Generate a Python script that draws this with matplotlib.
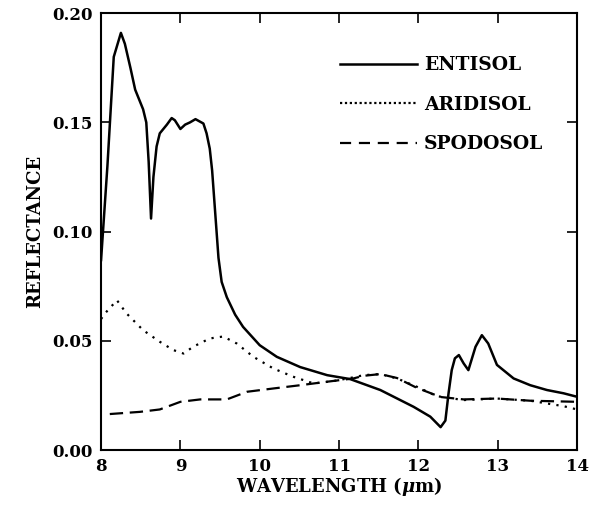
import matplotlib
matplotlib.use("Agg")
import matplotlib.pyplot as plt
import numpy as np

# values
entisol_x = [8.0, 8.08, 8.16, 8.25, 8.30, 8.37, 8.43, 8.53, 8.57, 8.60, 8.63, 8.66, 8.70,
             8.74, 8.83, 8.89, 8.93, 9.0, 9.06, 9.12, 9.19, 9.29, 9.33, 9.37, 9.40, 9.44,
             9.48, 9.52, 9.585, 9.69, 9.79, 10.0, 10.215, 10.51, 10.85, 11.14, 11.52,
             11.94, 12.15, 12.28, 12.34, 12.38, 12.42, 12.46, 12.51, 12.57, 12.63, 12.72,
             12.80, 12.88, 12.99, 13.20, 13.41, 13.62, 13.83, 14.0]
entisol_y = [0.087, 0.130, 0.180, 0.191, 0.186, 0.175, 0.165, 0.156, 0.150, 0.132, 0.106,
             0.125, 0.139, 0.145, 0.149, 0.152, 0.151, 0.147, 0.149, 0.150, 0.1515, 0.1495,
             0.145, 0.138, 0.128, 0.108, 0.088, 0.077, 0.070, 0.062, 0.0564, 0.048, 0.0427,
             0.038, 0.0343, 0.0325, 0.0275, 0.0198, 0.0153, 0.0105, 0.0135, 0.026, 0.0366,
             0.042, 0.0435, 0.0397, 0.0366, 0.0473, 0.0526, 0.0488, 0.039, 0.0328, 0.0297,
             0.0275, 0.026, 0.0244]

aridisol_x = [8.0, 8.05, 8.2, 8.32, 8.53, 8.74, 8.91, 9.04, 9.16, 9.37, 9.54, 9.71, 9.92,
              10.17, 10.42, 10.68, 10.93, 11.18, 11.31, 11.52, 11.73, 11.98, 12.23, 12.57,
              12.99, 13.41, 13.83, 14.0]
aridisol_y = [0.060, 0.0626, 0.0686, 0.0626, 0.0549, 0.0496, 0.0458, 0.0442, 0.0473, 0.0511,
              0.052, 0.0488, 0.0427, 0.0374, 0.0336, 0.0305, 0.0316, 0.0333, 0.0343, 0.0348,
              0.0328, 0.029, 0.0247, 0.0229, 0.0236, 0.0226, 0.0201, 0.0186]

spodosol_x = [8.11, 8.49, 8.74, 9.0, 9.25, 9.585, 9.84, 10.17, 10.51, 10.85, 11.18, 11.31,
              11.52, 11.73, 11.98, 12.28, 12.57, 12.99, 13.41, 14.0]
spodosol_y = [0.0165, 0.0175, 0.0186, 0.0221, 0.0232, 0.0232, 0.0267, 0.0282, 0.0297, 0.0313,
              0.0328, 0.034, 0.0348, 0.033, 0.0285, 0.0243, 0.0232, 0.0236, 0.0226, 0.0221]

x_ticks = [8, 9, 10, 11, 12, 13, 14]
y_ticks = [0.00, 0.05, 0.10, 0.15, 0.20]

plt.rcParams['font.family'] = ['DejaVu Serif']
plt.rcParams['font.weight'] = 'bold'
plt.rcParams['mathtext.fontset'] = 'dejavuserif'

fig = plt.figure(figsize=(5.98, 5.08), dpi=100)
ax = fig.add_axes([0.169, 0.114, 0.796, 0.86])

ax.plot(entisol_x, entisol_y, color='black', lw=1.8, label='ENTISOL')
ax.plot(aridisol_x, aridisol_y, color='black', lw=1.6, ls=(0, (1, 2.8)), label='ARIDISOL')
ax.plot(spodosol_x, spodosol_y, color='black', lw=1.6, ls=(0, (6, 3)), label='SPODOSOL')

ax.set_xlim(8, 14)
ax.set_ylim(0, 0.2)
ax.set_xticks(x_ticks)
ax.set_xticklabels([str(t) for t in x_ticks])
ax.set_yticks(y_ticks)
ax.set_yticklabels(['%.2f' % t for t in y_ticks])
ax.tick_params(direction='in', top=True, right=True, length=7, width=1.2,
               labelsize=12, pad=6)
for s in ax.spines.values():
    s.set_linewidth(1.5)

ax.set_xlabel(r'WAVELENGTH ($\mu$m)', fontsize=13, fontweight='bold', labelpad=0)
ax.set_ylabel('REFLECTANCE', fontsize=13, fontweight='bold', labelpad=6)

leg = ax.legend(loc='upper left', bbox_to_anchor=(0.467, 0.94), frameon=False,
                fontsize=13.5, handlelength=4.1, handletextpad=0.35, labelspacing=1.15)
leg.get_lines()[1].set_linestyle((0, (1, 1.2)))
leg.get_lines()[2].set_linestyle((0, (5, 3.5)))

fig.savefig('out.png', dpi=100)
